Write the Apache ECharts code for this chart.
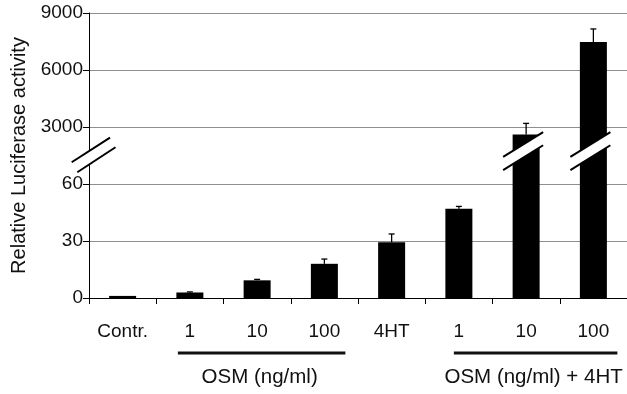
<!DOCTYPE html>
<html><head><meta charset="utf-8">
<script src="https://cdn.jsdelivr.net/npm/echarts@6/dist/echarts.min.js"></script>
<style>html,body{margin:0;padding:0;background:#fff}#c{width:627px;height:394px}</style>
</head><body><div id="c"></div>
<script>
// ---- data ----
const categories = ['Contr.', '1', '10', '100', '4HT', '1', '10', '100'];
const values = [1.1, 2.9, 9.3, 18.0, 29.3, 47.0, 2600, 7470];
const errors = [0, 0.3, 0.5, 2.5, 4.4, 1.2, 590, 690];
const tickLabels = ['0', '30', '60', '3000', '6000', '9000'];
const groupLabels = ['OSM (ng/ml)', 'OSM (ng/ml) + 4HT'];
const groupRanges = [[1, 3], [5, 7]];
const brokenBars = [6, 7];

// broken axis: 0..60 lower segment, 3000..9000 upper segment
function toDisplay(v) { return v <= 60 ? v / 30 : 3 + (v - 3000) / 3000; }

const FONT = "'Liberation Sans', Arial, sans-serif";
const FS = 19;
const BREAK_Y = 2.58;      // display position of break marks on bars
const AXIS_BREAK_Y = 2.51; // display position of break mark on axis

const barData = values.map(toDisplay);
const errData = values.map((v, i) => [i, toDisplay(v), toDisplay(v + errors[i])]).filter((d, i) => errors[i] > 0);
const breakData = brokenBars.map(i => [i, BREAK_Y, 0]).concat([[0, AXIS_BREAK_Y, 1]]);

const chart = echarts.init(document.getElementById('c'), null, {renderer: 'canvas'});

function breakShape(cx, cy, o) {
  const l1 = o[0], l2 = o[1];
  return {
    type: 'group',
    children: [
      {type: 'polygon', shape: {points: [[cx + l1[0], cy + l1[1]], [cx + l1[2], cy + l1[3]], [cx + l2[2], cy + l2[3]], [cx + l2[0], cy + l2[1]]]}, style: {fill: '#fff'}},
      {type: 'line', shape: {x1: cx + l1[0], y1: cy + l1[1], x2: cx + l1[2], y2: cy + l1[3]}, style: {stroke: '#000', lineWidth: 2}},
      {type: 'line', shape: {x1: cx + l2[0], y1: cy + l2[1], x2: cx + l2[2], y2: cy + l2[3]}, style: {stroke: '#000', lineWidth: 2}}
    ]
  };
}

chart.setOption({
  animation: false,
  backgroundColor: '#fff',
  grid: {left: 89, right: 0, top: 13, bottom: 96, containLabel: false},
  xAxis: {
    type: 'category',
    data: categories,
    axisLine: {lineStyle: {color: '#000', width: 1}},
    axisTick: {show: true, length: 6, lineStyle: {color: '#000'}},
    axisLabel: {color: '#111', fontSize: FS, fontFamily: FONT, margin: 24, interval: 0}
  },
  yAxis: {
    type: 'value',
    min: 0, max: 5, interval: 1,
    name: 'Relative Luciferase activity',
    nameLocation: 'middle',
    nameGap: 56,
    nameTextStyle: {color: '#111', fontSize: 20, fontFamily: FONT},
    axisLine: {show: true, lineStyle: {color: '#000', width: 1}},
    axisTick: {show: true, length: 6, lineStyle: {color: '#000'}},
    axisLabel: {color: '#111', fontSize: FS, fontFamily: FONT, margin: 6,
      formatter: v => tickLabels[Math.round(v)]},
    splitLine: {show: true, lineStyle: {color: '#8f8f8f', width: 1}}
  },
  series: [
    {type: 'bar', data: barData, barWidth: 27, itemStyle: {color: '#000'}, z: 2},
    {type: 'custom', data: errData, z: 3, renderItem: function (params, api) {
      const p1 = api.coord([api.value(0), api.value(1)]);
      const p2 = api.coord([api.value(0), api.value(2)]);
      return {type: 'group', children: [
        {type: 'line', shape: {x1: p1[0], y1: p1[1], x2: p2[0], y2: p2[1]}, style: {stroke: '#000', lineWidth: 1.3}},
        {type: 'line', shape: {x1: p2[0] - 3, y1: p2[1], x2: p2[0] + 3, y2: p2[1]}, style: {stroke: '#000', lineWidth: 1.3}}
      ]};
    }},
    {type: 'custom', data: breakData, z: 10, clip: false, renderItem: function (params, api) {
      const p = api.coord([api.value(0), api.value(1)]);
      if (api.value(2) === 1) {
        const x = p[0] - api.size([1, 0])[0] / 2;
        return breakShape(x, p[1], [[-17.3, 7.3, 21, -17.3], [-11.7, 17.3, 26.5, -7.7]]);
      }
      return breakShape(p[0] - 3, p[1], [[-20, 5.9, 20, -18.9], [-20, 19.1, 20, -5.7]]);
    }}
  ]
});

// group underline + labels positioned from category coordinates
const axisY = chart.convertToPixel({gridIndex: 0}, [0, 0])[1];
const pads = [[-12, 21], [-5, 24]];
const graphics = [];
groupRanges.forEach((r, g) => {
  const x1 = chart.convertToPixel({xAxisIndex: 0}, r[0]) + pads[g][0];
  const x2 = chart.convertToPixel({xAxisIndex: 0}, r[1]) + pads[g][1];
  graphics.push({type: 'line', shape: {x1: x1, y1: axisY + 55, x2: x2, y2: axisY + 55}, style: {stroke: '#111', lineWidth: 3}});
  graphics.push({type: 'text', x: (x1 + x2) / 2 - 2, y: axisY + 79, style: {text: groupLabels[g], fill: '#111', font: '20.5px ' + FONT, textAlign: 'center', textVerticalAlign: 'middle'}});
});
chart.setOption({graphic: graphics});
</script>
</body></html>
